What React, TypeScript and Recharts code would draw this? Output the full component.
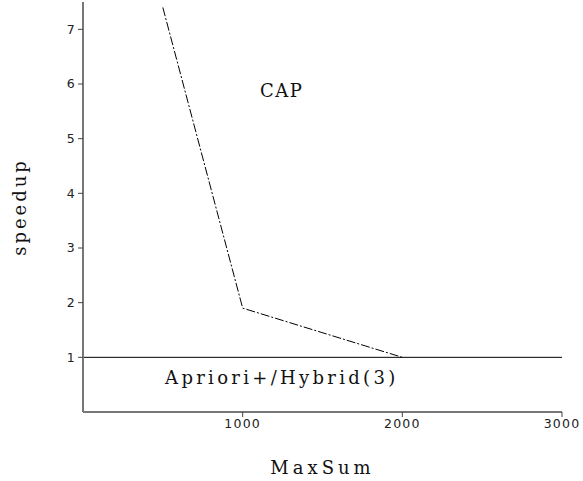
import { LineChart, Line, XAxis, YAxis, ReferenceDot } from "recharts";

// CAP speedup curve
const capMaxSum = [500, 1000, 2000];
const capSpeedup = [7.4, 1.9, 1.0];

// Apriori+/Hybrid(3) baseline
const baseMaxSum = [0, 3000];
const baseSpeedup = [1, 1];

const xTicks = [1000, 2000, 3000];
const yTicks = [1, 2, 3, 4, 5, 6, 7];

const capData = capMaxSum.map((x, i) => ({ x, y: capSpeedup[i] }));
const baseData = baseMaxSum.map((x, i) => ({ x, y: baseSpeedup[i] }));

const SERIF = "'DejaVu Serif', serif";
const SANS = "'DejaVu Sans', sans-serif";
const AXIS = "#777";

const tickStyle = {
  fill: "#222",
  fontSize: 12.5,
  fontFamily: SANS,
  letterSpacing: 1.2,
};

export default function App() {
  return (
    <div style={{ position: "absolute", left: 0, top: 0, background: "#fff" }}>
      <LineChart
        width={583}
        height={481}
        margin={{ top: 2, right: 21, bottom: 0, left: 0 }}
      >
        <XAxis
          type="number"
          dataKey="x"
          domain={[0, 3000]}
          ticks={xTicks}
          height={69}
          tickSize={5}
          stroke={AXIS}
          strokeWidth={2}
          tick={tickStyle}
          tickLine={{ stroke: "#444", strokeWidth: 1 }}
          label={{
            value: "MaxSum",
            position: "insideBottom",
            offset: 7,
            fill: "#111",
            fontSize: 18,
            fontFamily: SERIF,
            letterSpacing: 4,
          }}
        />
        <YAxis
          type="number"
          domain={[0, 7.5]}
          ticks={yTicks}
          width={83}
          tickSize={5}
          stroke={AXIS}
          strokeWidth={2}
          tick={tickStyle}
          tickLine={{ stroke: "#444", strokeWidth: 1 }}
          label={{
            value: "speedup",
            angle: -90,
            position: "insideLeft",
            offset: 20,
            fill: "#111",
            fontSize: 18,
            fontFamily: SERIF,
            letterSpacing: 3,
            style: { textAnchor: "middle" },
          }}
        />
        <Line
          data={baseData}
          dataKey="y"
          stroke="#000"
          strokeWidth={1}
          dot={false}
          isAnimationActive={false}
        />
        <Line
          data={capData}
          dataKey="y"
          stroke="#000"
          strokeWidth={1}
          strokeDasharray="9 2 2 2"
          dot={false}
          isAnimationActive={false}
        />
        <ReferenceDot
          x={1245}
          y={5.87}
          r={0}
          label={{
            value: "CAP",
            position: "center",
            fill: "#111",
            fontSize: 18,
            fontFamily: SERIF,
            letterSpacing: 1.5,
          }}
        />
        <ReferenceDot
          x={1245}
          y={0.62}
          r={0}
          label={{
            value: "Apriori+/Hybrid(3)",
            position: "center",
            fill: "#111",
            fontSize: 18,
            fontFamily: SERIF,
            letterSpacing: 3.3,
          }}
        />
      </LineChart>
    </div>
  );
}
